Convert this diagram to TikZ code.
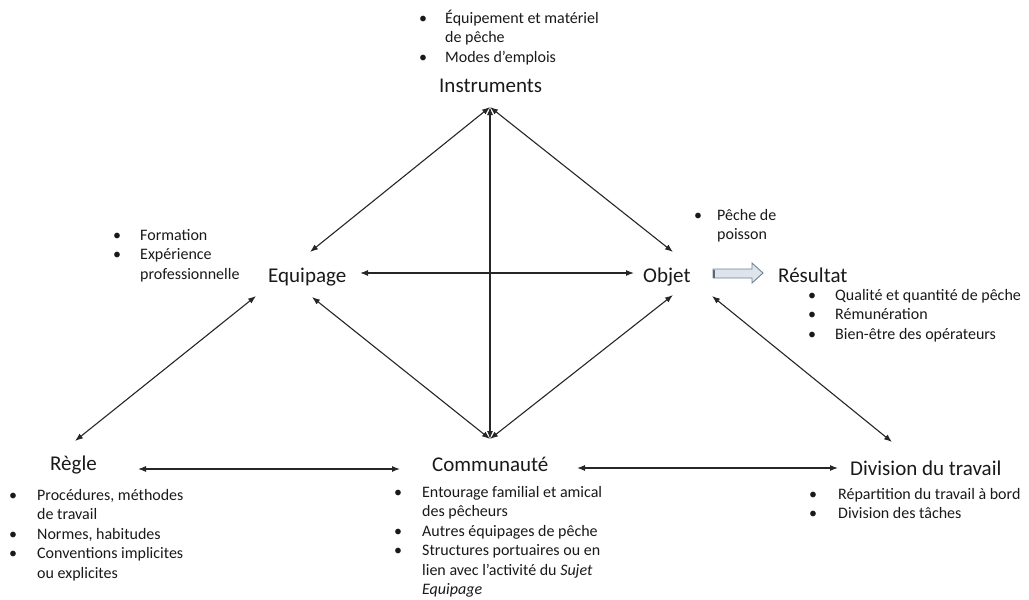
\documentclass[tikz,border=0pt]{standalone}
\usepackage{fontspec}
\setmainfont{Carlito}
\usetikzlibrary{arrows.meta}
\definecolor{arrfill}{RGB}{222,228,236}
\definecolor{arrdraw}{RGB}{112,128,152}
\definecolor{arrdark}{RGB}{88,102,126}
\newcommand{\blist}[2]{{\fontsize{16}{19.5}\selectfont\begin{tabular}[t]{@{}p{#1}@{}l@{}}#2\end{tabular}}}
\begin{document}
\begin{tikzpicture}[x=1pt,y=-1pt,
  lbl/.style={anchor=base west,inner sep=0pt,font=\fontsize{21}{25}\selectfont,text=black!90},
  lst/.style={anchor=base west,inner sep=0pt,text=black!90},
  link/.style={{Latex[length=8pt,width=6pt]}-{Latex[length=8pt,width=6pt]},line width=1.1pt,black!85},
  blockarrow/.style={fill=arrfill,draw=arrdraw,line width=0.9pt}]
\useasboundingbox (0,0) rectangle (1029,600);
% labels
\node[lbl] (instr) at (439,92) {Instruments};
\node[lbl] (equip) at (268,282) {Equipage};
\node[lbl] (objet) at (643,282) {Objet};
\node[lbl] (result) at (778,282) {Résultat};
\node[lbl] (regle) at (50,470) {Règle};
\node[lbl] (comm) at (432,471) {Communauté};
\node[lbl] (divis) at (850,475) {Division du travail};
% lists
\node[lst] (linstr) at (419,23) {\blist{26pt}{\textbullet & Équipement et matériel\\ & de pêche\\ \textbullet & Modes d’emplois}};
\node[lst] (lequip) at (113,240) {\blist{27pt}{\textbullet & Formation\\ \textbullet & Expérience\\ & professionnelle}};
\node[lst] (lobjet) at (694,220) {\blist{23pt}{\textbullet & Pêche de\\ & poisson}};
\node[lst] (lresult) at (808,300) {\blist{27pt}{\textbullet & Qualité et quantité de pêche\\ \textbullet & Rémunération\\ \textbullet & Bien-être des opérateurs}};
\node[lst] (lregle) at (9,500) {\blist{28pt}{\textbullet & Procédures, méthodes\\ & de travail\\ \textbullet & Normes, habitudes\\ \textbullet & Conventions implicites\\ & ou explicites}};
\node[lst] (lcomm) at (394,497) {\blist{28pt}{\textbullet & Entourage familial et amical\\ & des pêcheurs\\ \textbullet & Autres équipages de pêche\\ \textbullet & Structures portuaires ou en\\ & lien avec l’activité du \textit{Sujet}\\ & \textit{Equipage}}};
\node[lst] (ldivis) at (809,499) {\blist{29pt}{\textbullet & Répartition du travail à bord\\ \textbullet & Division des tâches}};
% connector end points
\coordinate (top) at (490,107);
\coordinate (bot) at (490,439);
\coordinate (eqT) at (310,252);
\coordinate (eqB) at (312,297);
\coordinate (eqR) at (360,273);
\coordinate (eqL) at (256,296);
\coordinate (obT) at (673,252);
\coordinate (obB) at (673,295);
\coordinate (obL) at (634,273);
\coordinate (obR) at (712,296);
\coordinate (reU) at (75,441);
\coordinate (reR) at (138,469);
\coordinate (coL) at (400,469);
\coordinate (coR) at (577,468);
\coordinate (diL) at (838,468);
\coordinate (diU) at (892,442);
% connectors
\draw[link] (top) -- (bot);
\draw[link] (top) -- (eqT);
\draw[link] (top) -- (obT);
\draw[link] (bot) -- (eqB);
\draw[link] (bot) -- (obB);
\draw[link] (eqR) -- (obL);
\draw[link] (eqL) -- (reU);
\draw[link] (obR) -- (diU);
\draw[link] (reR) -- (coL);
\draw[link] (coR) -- (diL);
% block arrow objet -> resultat
\draw[blockarrow] (713,269) -- (752,269) -- (752,263) -- (763,273) -- (752,283) -- (752,278) -- (713,278) -- cycle;
\draw[arrdark,line width=2pt] (714,269.5) -- (714,277.5);
\end{tikzpicture}
\end{document}
